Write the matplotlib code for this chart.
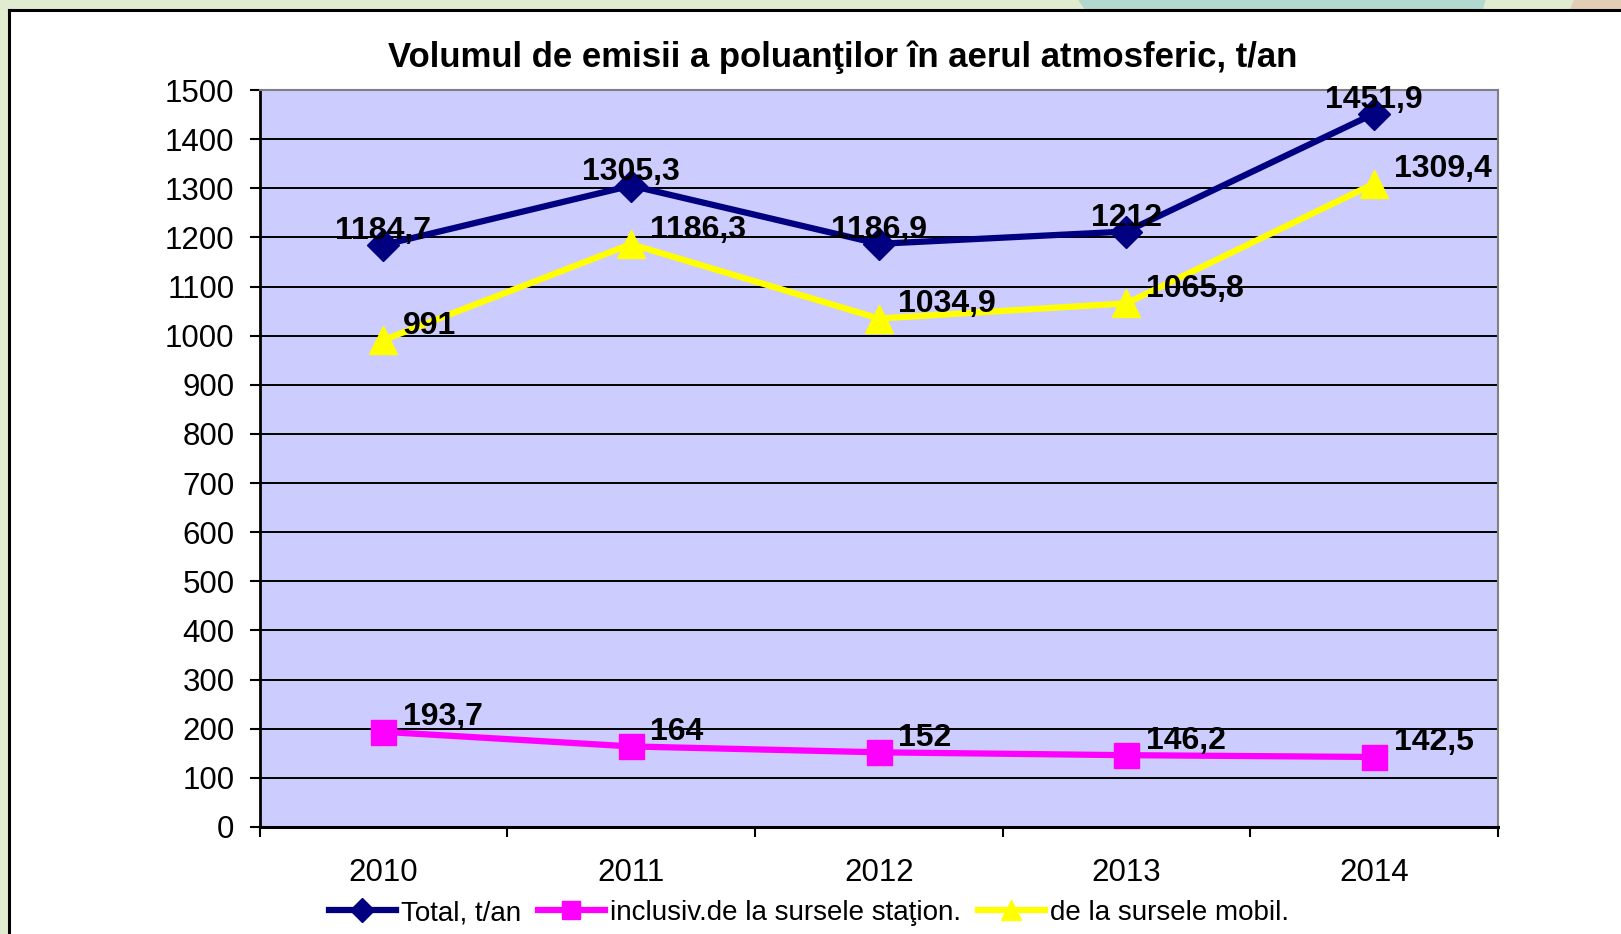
import matplotlib.pyplot as plt
from matplotlib.patches import Rectangle, Polygon
from matplotlib.lines import Line2D

plt.rcParams['font.family'] = ['Liberation Sans', 'DejaVu Sans']

years = ['2010', '2011', '2012', '2013', '2014']
total = [1184.7, 1305.3, 1186.9, 1212, 1451.9]
station = [193.7, 164, 152, 146.2, 142.5]
mobile = [991, 1186.3, 1034.9, 1065.8, 1309.4]

W, H = 1621, 934
fig = plt.figure(figsize=(W / 100, H / 100), dpi=100)
fig.patch.set_facecolor('white')

# decorative slide background around the chart frame
green = '#e1ebcf'
fig.patches.append(Rectangle((0, 0), 9 / W, 1, transform=fig.transFigure, color=green, zorder=0))
fig.patches.append(Rectangle((0, 1 - 10 / H), 1, 10 / H, transform=fig.transFigure, color=green, zorder=0))
fig.patches.append(Polygon([(1079 / W, 1), (1485 / W, 1), (1482 / W, 1 - 10 / H), (1086 / W, 1 - 10 / H)],
                           closed=True, transform=fig.transFigure, color='#b2d9cf', zorder=0))
fig.patches.append(Polygon([(1574 / W, 1), (1, 1), (1, 1 - 10 / H), (1570 / W, 1 - 10 / H)],
                           closed=True, transform=fig.transFigure, color='#e2cdb5', zorder=0))
fig.lines.append(Line2D([9 / W, 9 / W], [0, 1 - 10 / H], transform=fig.transFigure, color='black', lw=2.2))
fig.lines.append(Line2D([9 / W, 1], [1 - 10 / H, 1 - 10 / H], transform=fig.transFigure, color='black', lw=2.2))

ax = fig.add_axes([259.5 / W, 1 - 827 / H, (1498 - 259.5) / W, (827 - 90) / H])
ax.set_facecolor('#ccccff')

x = list(range(len(years)))
ax.plot(x, total, color='#000080', lw=4.5, marker='D', ms=16, zorder=3, label='Total, t/an')
ax.plot(x, station, color='#ff00ff', lw=4.5, marker='s', ms=18, zorder=3,
        label='inclusiv.de la sursele staţion.')
ax.plot(x, mobile, color='#ffff00', lw=4.5, marker='^', ms=20, zorder=3, label='de la sursele mobil.')

def fmt(v):
    s = ('%.1f' % v).rstrip('0').rstrip('.')
    return s.replace('.', ',')

lab = dict(fontsize=23, fontweight='bold', color='black', textcoords='offset points', zorder=4)
for xi, v in zip(x, total):
    ax.annotate(fmt(v), (xi, v), xytext=(0, 10), ha='center', va='center', **lab)
for xi, v in zip(x, mobile):
    ax.annotate(fmt(v), (xi, v), xytext=(14, 10.5), ha='left', va='center', **lab)
for xi, v in zip(x, station):
    ax.annotate(fmt(v), (xi, v), xytext=(14, 10.5), ha='left', va='center', **lab)

ax.set_xlim(-0.5, 4.5)
ax.set_ylim(0, 1500)
ax.set_yticks(range(0, 1501, 100))
ax.tick_params(axis='y', labelsize=22.5, length=7, width=1.5, pad=11, direction='out')
ax.yaxis.grid(True, color='black', lw=1.4)
ax.set_axisbelow(True)

ax.set_xticks([i - 0.5 for i in range(6)])
ax.set_xticklabels([])
ax.set_xticks(x, minor=True)
ax.set_xticklabels(years, minor=True)
ax.tick_params(axis='x', which='major', length=7, width=1.5, direction='out')
ax.tick_params(axis='x', which='minor', length=0, labelsize=22.5, pad=22)

for s in ['top', 'right']:
    ax.spines[s].set_color('#808080')
    ax.spines[s].set_linewidth(1.5)
ax.spines['left'].set_linewidth(2)
ax.spines['bottom'].set_linewidth(2.2)

fig.text(843 / W, 1 - 57 / H, 'Volumul de emisii a poluanţilor în aerul atmosferic, t/an',
         ha='center', va='center', fontsize=25, fontweight='bold')

fig.legend(loc='center', bbox_to_anchor=(809 / W, 1 - 913 / H), ncol=3, frameon=False,
           fontsize=20, handlelength=2.4, handletextpad=0.2, columnspacing=0.6,
           markerscale=0.75)

fig.savefig('out.png', dpi=100)
